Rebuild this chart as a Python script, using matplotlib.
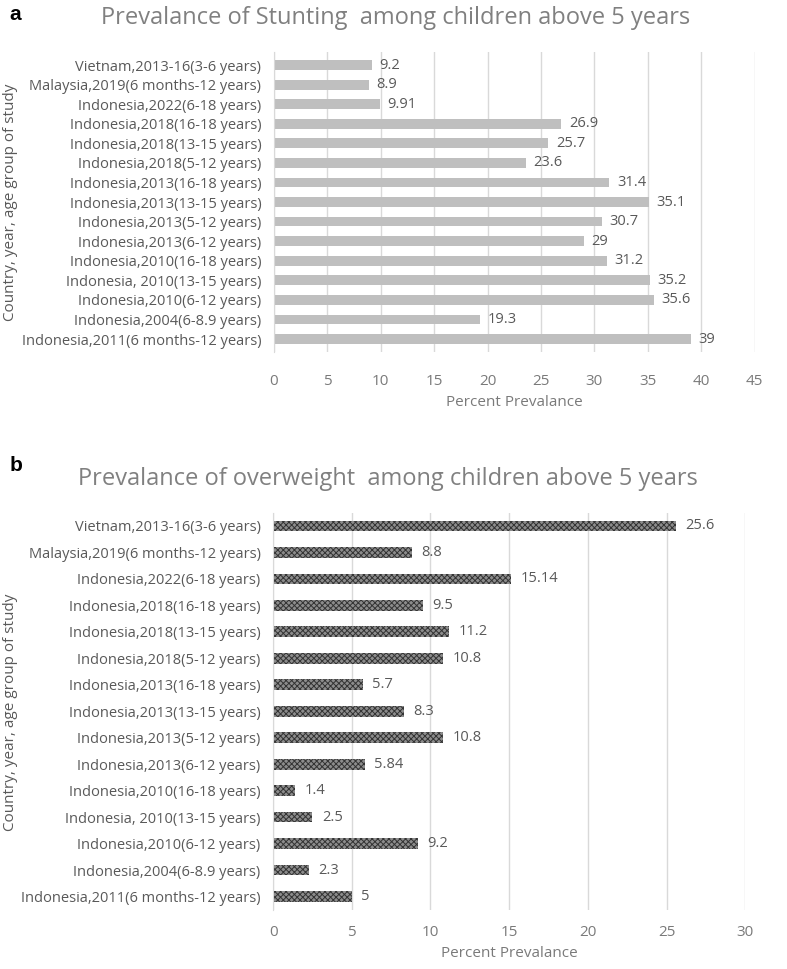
import numpy as np
import matplotlib.pyplot as plt

plt.rcParams['font.family'] = ['Open Sans', 'DejaVu Sans']

# categories, listed bottom to top as drawn
studies = [
    'Indonesia,2011(6 months-12 years)',
    'Indonesia,2004(6-8.9 years)',
    'Indonesia,2010(6-12 years)',
    'Indonesia, 2010(13-15 years)',
    'Indonesia,2010(16-18 years)',
    'Indonesia,2013(6-12 years)',
    'Indonesia,2013(5-12 years)',
    'Indonesia,2013(13-15 years)',
    'Indonesia,2013(16-18 years)',
    'Indonesia,2018(5-12 years)',
    'Indonesia,2018(13-15 years)',
    'Indonesia,2018(16-18 years)',
    'Indonesia,2022(6-18 years)',
    'Malaysia,2019(6 months-12 years)',
    'Vietnam,2013-16(3-6 years)',
]
stunting = [39, 19.3, 35.6, 35.2, 31.2, 29, 30.7, 35.1, 31.4, 23.6, 25.7, 26.9, 9.91, 8.9, 9.2]
stunting_lbl = ['39', '19.3', '35.6', '35.2', '31.2', '29', '30.7', '35.1', '31.4',
                '23.6', '25.7', '26.9', '9.91', '8.9', '9.2']
overweight = [5, 2.3, 9.2, 2.5, 1.4, 5.84, 10.8, 8.3, 5.7, 10.8, 11.2, 9.5, 15.14, 8.8, 25.6]
overweight_lbl = ['5', '2.3', '9.2', '2.5', '1.4', '5.84', '10.8', '8.3', '5.7',
                  '10.8', '11.2', '9.5', '15.14', '8.8', '25.6']

TXT = '#595959'
GRID = '#d9d9d9'
FS = 10.5

fig = plt.figure(figsize=(7.87, 9.69), dpi=100)


def style(ax, xmax, step, xpad, lpad):
    ax.set_xlim(0, xmax)
    ax.set_xticks(np.arange(0, xmax + 0.1, step))
    ax.grid(axis='x', color=GRID, linewidth=1)
    ax.set_axisbelow(True)
    for s in ['top', 'right', 'bottom']:
        ax.spines[s].set_visible(False)
    ax.spines['left'].set_color(GRID)
    ax.tick_params(axis='y', length=0, labelsize=FS, colors=TXT, pad=9)
    ax.tick_params(axis='x', length=0, labelsize=FS + 0.5, colors='#7a7a7a', pad=xpad)
    ax.set_yticks(range(len(studies)))
    ax.set_yticklabels(studies)
    ax.set_xlabel('Percent Prevalance', fontsize=11, color='#7a7a7a', labelpad=lpad)


# panel a
ax1 = fig.add_axes([0.348, 0.637, 0.611, 0.309])
y = np.arange(len(studies))
ax1.barh(y, stunting, height=0.5, color='#bfbfbf')
for yi, v, t in zip(y, stunting, stunting_lbl):
    ax1.text(v + 0.7, yi, t, va='center', fontsize=FS, color=TXT)
ax1.set_ylim(-0.65, 14.65)
style(ax1, 45, 5, 16, 4)
fig.text(0.503, 0.981, 'Prevalance of Stunting  among children above 5 years',
         ha='center', va='center', fontsize=17, color='#808080')
fig.text(0.012, 0.985, 'a', fontsize=15, fontweight='bold', va='center',
         family=['Liberation Sans', 'DejaVu Sans'])
fig.text(0.013, (969 - 202) / 969, 'Country, year, age group of study', rotation=90,
         ha='center', va='center', fontsize=11, color=TXT)

# panel b
ax2 = fig.add_axes([0.347, 0.061, 0.6, 0.41])
plt.rcParams['hatch.color'] = '#333333'
plt.rcParams['hatch.linewidth'] = 0.7
ax2.barh(y, overweight, height=0.4, color='#8c8c8c', hatch='xxxxxx', linewidth=0)
for yi, v, t in zip(y, overweight, overweight_lbl):
    ax2.text(v + 0.6, yi, t, va='center', fontsize=FS, color=TXT)
ax2.set_ylim(-0.5, 14.5)
style(ax2, 30, 5, 11, 4)
fig.text(0.493, 0.506, 'Prevalance of overweight  among children above 5 years',
         ha='center', va='center', fontsize=17, color='#808080')
fig.text(0.012, 0.52, 'b', fontsize=15, fontweight='bold', va='center',
         family=['Liberation Sans', 'DejaVu Sans'])
fig.text(0.013, (969 - 712) / 969, 'Country, year, age group of study', rotation=90,
         ha='center', va='center', fontsize=11, color=TXT)

fig.savefig('out.png', dpi=100)
